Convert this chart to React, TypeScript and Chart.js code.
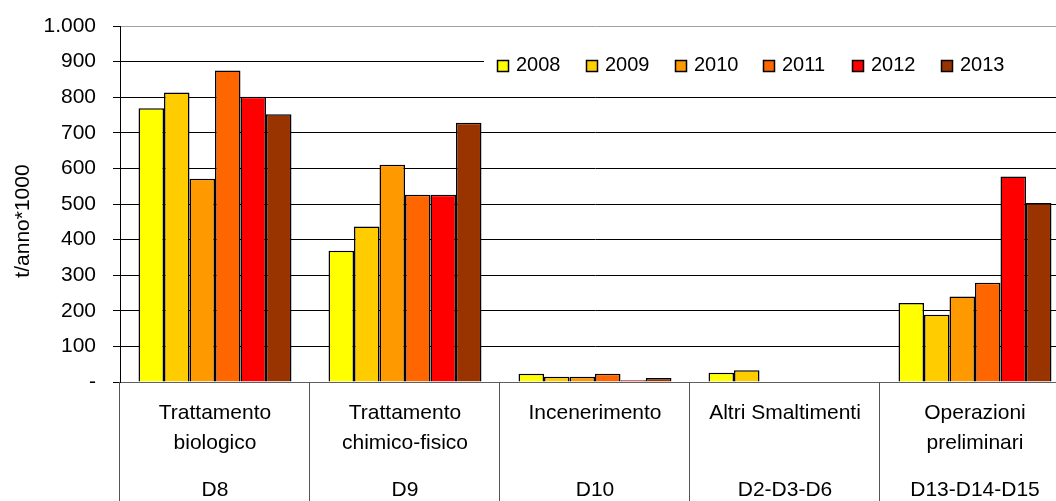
import React, { useEffect, useRef } from 'react';
import { Chart, registerables } from 'chart.js';

Chart.register(...registerables);

// ---- data ----
const categories: string[][] = [
  ['Trattamento', 'biologico'],
  ['Trattamento', 'chimico-fisico'],
  ['Incenerimento'],
  ['Altri Smaltimenti'],
  ['Operazioni', 'preliminari'],
];
const codes: string[] = ['D8', 'D9', 'D10', 'D2-D3-D6', 'D13-D14-D15'];
const years: string[] = ['2008', '2009', '2010', '2011', '2012', '2013'];

const v2008: (number | null)[] = [769, 369, 23, 26, 222];
const v2009: (number | null)[] = [813, 437, 15, 33, 189];
const v2010: (number | null)[] = [571, 610, 15, null, 240];
const v2011: (number | null)[] = [875, 526, 23, null, 279];
const v2012: (number | null)[] = [801, 526, 5, null, 577];
const v2013: (number | null)[] = [752, 728, 11, null, 503];

const yTickLabels: string[] = ['-', '100', '200', '300', '400', '500', '600', '700', '800', '900', '1.000'];
const yTitle = 't/anno*1000';

const seriesValues = [v2008, v2009, v2010, v2011, v2012, v2013];
const seriesColors = ['#FFFF00', '#FFCC00', '#FF9900', '#FF6600', '#FF0000', '#993300'];

const FONT = '"Liberation Sans", Arial, sans-serif';

const dividerPlugin = {
  id: 'dividers',
  afterDraw(chart: any) {
    const { ctx, chartArea } = chart;
    const xs = chart.scales.x;
    const n = categories.length;
    const w = (xs.right - xs.left) / n;
    ctx.save();
    ctx.strokeStyle = '#555555';
    ctx.lineWidth = 1;
    for (let i = 0; i <= n; i++) {
      const px = Math.round(xs.left + i * w) - 0.5;
      ctx.beginPath();
      ctx.moveTo(px, chartArea.bottom);
      ctx.lineTo(px, chart.height);
      ctx.stroke();
    }
    ctx.restore();
  },
};

const yTitlePlugin = {
  id: 'yTitle',
  afterDraw(chart: any) {
    const { ctx, chartArea } = chart;
    ctx.save();
    ctx.font = `21px ${FONT}`;
    ctx.fillStyle = '#000';
    ctx.textAlign = 'center';
    ctx.textBaseline = 'middle';
    ctx.translate(chartArea.left - 97, (chartArea.top + chartArea.bottom) / 2 + 17);
    ctx.rotate(-Math.PI / 2);
    ctx.fillText(yTitle, 0, 0);
    ctx.restore();
  },
};

const legendPlugin = {
  id: 'customLegend',
  afterDraw(chart: any) {
    const { ctx, chartArea } = chart;
    const x0 = chartArea.left + 364;
    ctx.save();
    ctx.fillStyle = '#ffffff';
    ctx.fillRect(x0, chartArea.top + 20, chart.width - x0, 40);
    ctx.font = `20px ${FONT}`;
    ctx.textBaseline = 'middle';
    ctx.textAlign = 'left';
    chart.data.datasets.forEach((ds: any, i: number) => {
      const mx = Math.round(chartArea.left + 377 + i * 88.8);
      const my = Math.round(chartArea.top + 34);
      ctx.fillStyle = ds.backgroundColor;
      ctx.fillRect(mx, my, 12, 12);
      ctx.strokeStyle = '#000';
      ctx.lineWidth = 1.5;
      ctx.strokeRect(mx + 0.5, my + 0.5, 11, 11);
      ctx.fillStyle = '#000';
      ctx.fillText(ds.label, mx + 19, my + 5);
    });
    ctx.restore();
  },
};

export default function App() {
  const ref = useRef<HTMLCanvasElement | null>(null);

  useEffect(() => {
    if (!ref.current) return;
    Chart.defaults.font.family = FONT;
    Chart.defaults.color = '#000';
    const chart = new Chart(ref.current, {
      type: 'bar',
      data: {
        labels: categories,
        datasets: years.map((y, i) => ({
          label: y,
          data: seriesValues[i],
          backgroundColor: seriesColors[i],
          borderColor: '#000000',
          borderWidth: 1.5,
          categoryPercentage: 0.805,
          barPercentage: 1,
        })),
      },
      options: {
        animation: false,
        responsive: false,
        devicePixelRatio: 1,
        layout: { padding: { top: 26, right: 2, left: 0, bottom: 0 } },
        plugins: {
          legend: { display: false },
          tooltip: { enabled: false },
        },
        scales: {
          x: {
            type: 'category',
            position: 'bottom',
            weight: 0,
            offset: true,
            grid: { display: false, drawTicks: false },
            border: { display: true, color: '#606060', width: 1 },
            ticks: {
              font: { size: 21, lineHeight: '30px' } as any,
              color: '#000',
              padding: 16,
              maxRotation: 0,
              autoSkip: false,
            },
          },
          x2: {
            type: 'category',
            position: 'bottom',
            weight: 1,
            labels: codes,
            offset: true,
            grid: { display: false, drawTicks: false },
            border: { display: false },
            ticks: {
              font: { size: 21, lineHeight: '30px' } as any,
              color: '#000',
              padding: 1,
              maxRotation: 0,
              autoSkip: false,
            },
          },
          y: {
            min: 0,
            max: 1000,
            afterFit: (scale: any) => {
              scale.width = 120;
            },
            ticks: {
              stepSize: 100,
              padding: 17,
              color: '#000',
              font: { size: 21, lineHeight: '16px' } as any,
              callback: (value: any, index: number) => yTickLabels[index] ?? String(value),
            },
            grid: {
              color: (c: any) =>
                c.tick && c.tick.value === 1000 ? '#a0a0a0' : c.tick && c.tick.value === 0 ? '#606060' : '#000000',
              tickColor: '#000000',
              tickLength: 7,
              lineWidth: 1,
            },
            border: { display: true, color: '#000000', width: 1 },
          },
        },
      },
      plugins: [dividerPlugin, yTitlePlugin, legendPlugin],
    } as any);
    return () => chart.destroy();
  }, []);

  return (
    <div
      style={{
        position: 'absolute',
        left: 0,
        top: 0,
        width: 1056,
        height: 501,
        overflow: 'hidden',
        background: '#fff',
      }}
    >
      <canvas ref={ref} width={1072} height={506} style={{ width: 1072, height: 506, display: 'block' }} />
    </div>
  );
}
